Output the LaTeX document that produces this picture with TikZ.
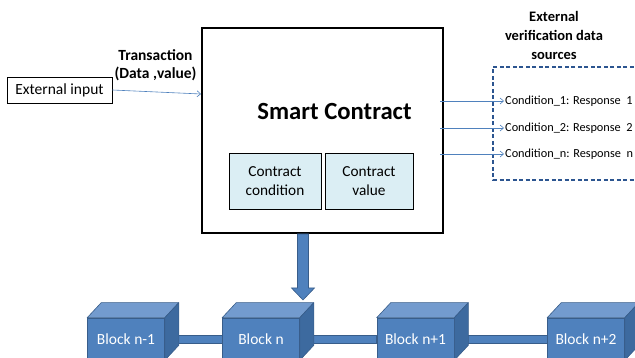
\documentclass[tikz,border=0pt]{standalone}
\usepackage{fontspec}
\setmainfont{Carlito}
\usetikzlibrary{arrows.meta,calc}

\definecolor{blockfront}{HTML}{4F81BD}
\definecolor{blocktop}{HTML}{739BCE}
\definecolor{blockside}{HTML}{3D6A9F}
\definecolor{blockedge}{HTML}{385D8A}
\definecolor{innerfill}{HTML}{DBEEF4}
\definecolor{thinblue}{HTML}{4F81BD}
\definecolor{dashblue}{HTML}{2C5590}

\newcommand{\fs}[2]{\fontsize{#1}{#2}\selectfont}

\tikzset{
  plainbox/.style={draw=black, line width=0.8pt, inner sep=3pt},
  innerbox/.style={draw=black, line width=0.8pt, fill=innerfill, minimum width=92pt,
    minimum height=56pt, align=center, font=\fs{15.3}{19}},
  thinarrow/.style={draw=thinblue, line width=0.6pt, -{Straight Barb[length=3.5pt,width=6pt]}},
  condtext/.style={anchor=west, inner sep=1pt, font=\fs{12.3}{14}},
  blockfrontface/.style={draw=blockedge, line width=0.6pt, fill=blockfront,
    minimum width=77pt, minimum height=42pt, text=white, font=\fs{15.5}{18}, inner sep=0pt},
  chainbar/.style={draw=blockedge, line width=0.6pt, fill=blockfront},
}

\begin{document}
\begin{tikzpicture}[x=1pt,y=-1pt]
\useasboundingbox (0,0) rectangle (635,358);

% smart contract container
\draw[line width=1.4pt] (202,28) rectangle (443,233);
\node[inner sep=0pt, minimum width=241pt, minimum height=205pt] (sc) at (322.5,130.5) {};
\node[font=\bfseries\fs{24.7}{28}] (sctitle) at (334.5,111) {Smart Contract};
\node[innerbox] (ccond) at (275,181) {Contract\\condition};
\node[innerbox, minimum width=88pt] (cval) at (369,181) {Contract\\value};

% external input and transaction
\node[plainbox, minimum width=105pt, minimum height=26pt, font=\fs{15.5}{18}] (ext) at (59.5,90) {External input};
\node[align=center, font=\bfseries\fs{15.5}{18}, inner sep=0pt] (txlabel) at (155.5,65.5) {Transaction\\(Data ,value)};
\coordinate (txin) at (201,94);
\draw[thinarrow] (ext.east) -- (txin);

% external verification sources
\node[align=center, font=\bfseries\fs{14.5}{19}, inner sep=0pt] (evlabel) at (554,35) {External\\verification data\\sources};
\draw[draw=dashblue, line width=1.3pt, dash pattern=on 4pt off 2.5pt] (640,67) -- (493,67) -- (493,180) -- (640,180);
\node[condtext] (cond1) at (504,101) {Condition\_1: Response\ \ 1};
\node[condtext] (cond2) at (504,128) {Condition\_2: Response\ \ 2};
\node[condtext] (condn) at (504,154) {Condition\_n: Response\ \ n};
\foreach \c in {cond1,cond2,condn}
  \draw[thinarrow] ($(\c.west)+(-64,0)$) -- (\c.west);

% blockchain: front faces
\foreach \n/\x/\t in {b1/126/{Block n-1}, b2/261/{Block n}, b3/415.5/{Block n+1}, b4/586/{Block n+2}}
  \node[blockfrontface] (\n) at (\x,339) {\t};

% links between blocks
\foreach \a/\b in {b1/b2, b2/b3, b3/b4}
  \draw[chainbar] ($(\a.east)+(0,-4)$) rectangle ($(\b.west)+(0,4)$);

% top and side faces of each block
\foreach \n in {b1,b2,b3,b4}{
  \draw[blockedge, line width=0.6pt, fill=blocktop, line join=round]
    (\n.north west) -- ++(14,-15) -- ($(\n.north east)+(14,-15)$) -- (\n.north east) -- cycle;
  \draw[blockedge, line width=0.6pt, fill=blockside, line join=round]
    (\n.north east) -- ++(14,-15) -- ($(\n.south east)+(14,-15)$) -- (\n.south east) -- cycle;
}

% block arrow from the contract down to the chain
\coordinate (dtop) at (303,234);
\coordinate (dtip) at (303,300);
\draw[blockedge, line width=0.6pt, fill=blockfront]
  ($(dtop)+(-5.5,0)$) -- ($(dtip)+(-5.5,-12)$) -- ($(dtip)+(-11.5,-12)$) -- (dtip)
  -- ($(dtip)+(11.5,-12)$) -- ($(dtip)+(5.5,-12)$) -- ($(dtop)+(5.5,0)$) -- cycle;
\end{tikzpicture}
\end{document}
